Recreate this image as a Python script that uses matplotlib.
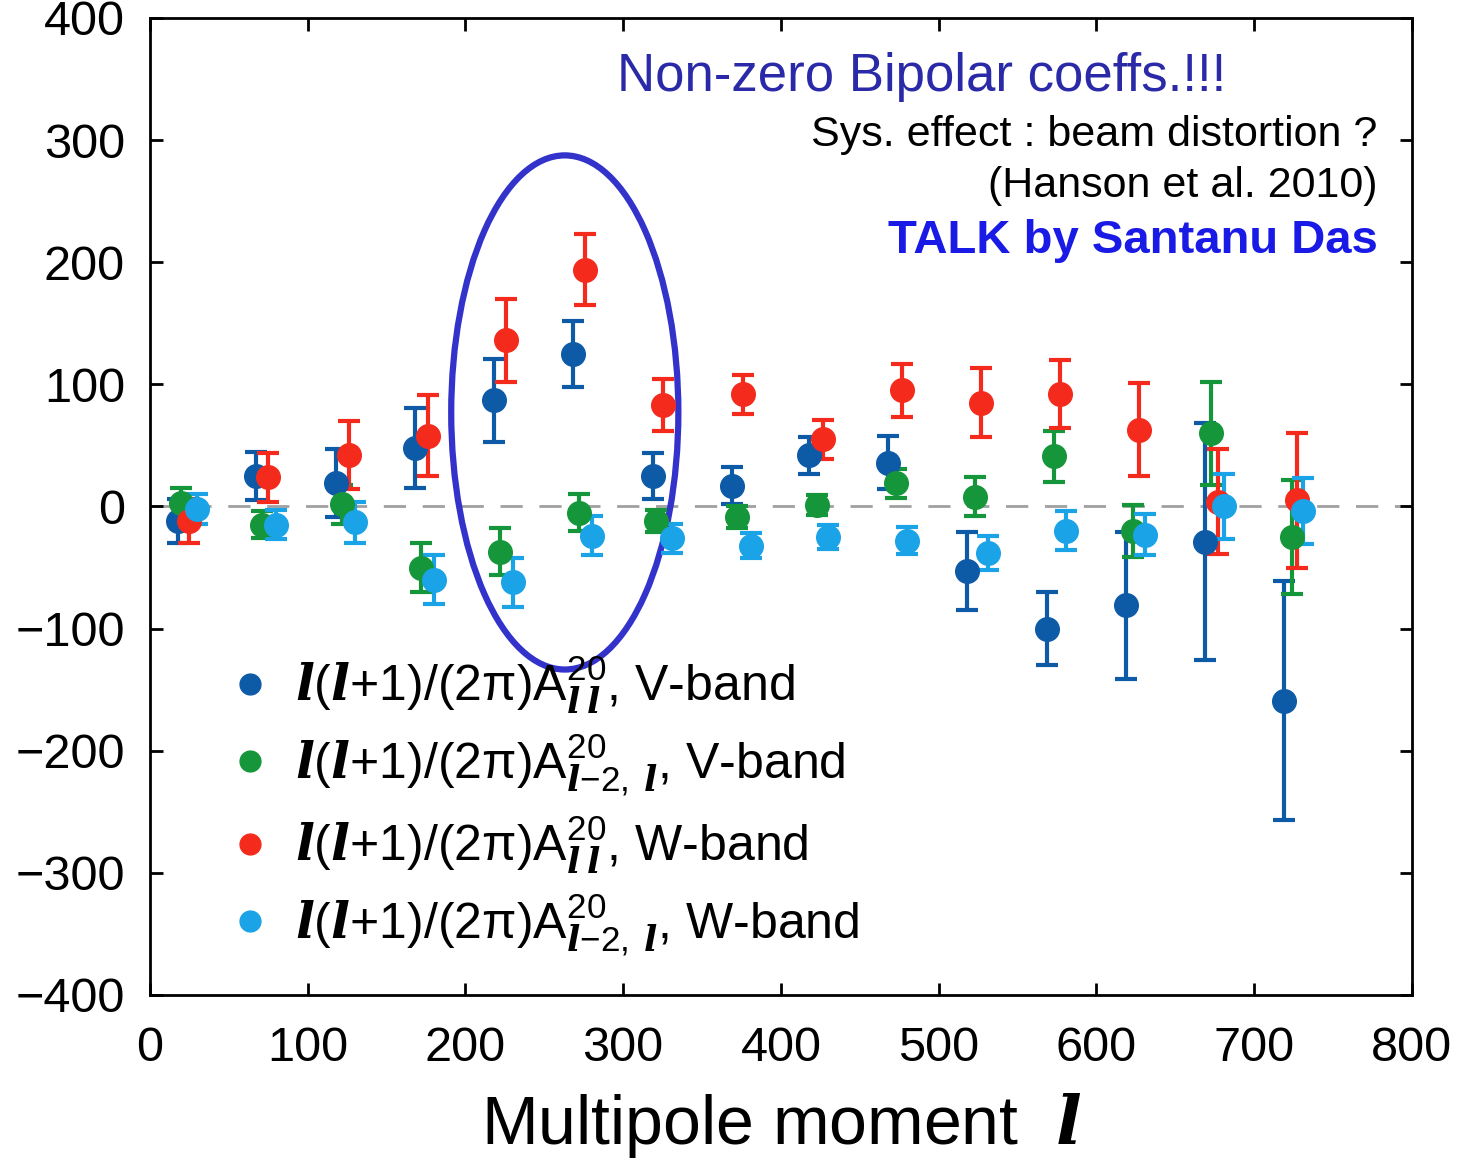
import matplotlib.pyplot as plt
from matplotlib.patches import Ellipse
from matplotlib.lines import Line2D

# bipolar coefficients
l_vll = [18, 67, 118, 168, 218, 268, 319, 369, 418, 468, 518, 569, 619, 669, 719]
a_vll = [-12, 25, 19, 48, 87, 125, 25, 17, 42, 36, -53, -100, -81, -29, -159]
e_vll = [18, 20, 28, 33, 34, 27, 19, 15, 15, 22, 32, 30, 60, 97, 98]

l_vl2 = [20, 71, 122, 172, 222, 272, 321, 372, 423, 473, 523, 573, 623, 673, 724]
a_vl2 = [3, -15, 2, -50, -37, -5, -12, -9, 1, 19, 8, 41, -20, 60, -25]
e_vl2 = [12, 11, 16, 20, 19, 15, 9, 9, 8, 12, 16, 21, 21, 42, 47]

l_wll = [25, 75, 126, 176, 226, 276, 325, 376, 427, 477, 527, 577, 627, 677, 727]
a_wll = [-12, 24, 42, 58, 136, 194, 83, 92, 55, 95, 85, 92, 63, 4, 5]
e_wll = [18, 20, 28, 33, 34, 29, 21, 16, 16, 22, 28, 28, 38, 43, 55]

l_wl2 = [30, 80, 130, 180, 230, 280, 331, 381, 430, 480, 531, 581, 631, 681, 731]
a_wl2 = [-2, -15, -13, -60, -62, -24, -26, -32, -25, -28, -38, -20, -23, 0, -4]
e_wl2 = [12, 12, 17, 20, 20, 16, 12, 10, 10, 11, 14, 16, 17, 27, 27]

labels = [r"$l(l$+1)/(2π)A$^{20}_{l\,l}$, V-band",
          r"$l(l$+1)/(2π)A$^{20}_{l\mathrm{-2},\,l}$, V-band",
          r"$l(l$+1)/(2π)A$^{20}_{l\,l}$, W-band",
          r"$l(l$+1)/(2π)A$^{20}_{l\mathrm{-2},\,l}$, W-band"]
colors = ["#0d5aa7", "#16963a", "#f42b1c", "#1aa3e6"]

plt.rcParams["font.family"] = ["Liberation Sans", "DejaVu Sans"]
plt.rcParams["mathtext.fontset"] = "custom"
plt.rcParams["mathtext.rm"] = "Liberation Sans"
plt.rcParams["mathtext.it"] = "DejaVu Serif:italic:bold"

fig = plt.figure(figsize=(14.6, 11.61), dpi=100)
ax = fig.add_axes([0.1027, 0.143, 0.8643, 0.8415])

ax.axhline(0, color="#a0a0a0", lw=2, dashes=(8, 6), zorder=0)

series = [(l_vll, a_vll, e_vll), (l_vl2, a_vl2, e_vl2),
          (l_wll, a_wll, e_wll), (l_wl2, a_wl2, e_wl2)]
for (x, y, e), c in zip(series, colors):
    ax.errorbar(x, y, yerr=e, fmt="o", color=c, ms=17, elinewidth=3,
                capsize=8, capthick=3)

# circle around the peak
ax.add_patch(Ellipse((263, 77), 144, 421, fill=False, ec="#3333cc", lw=4.5))

ax.set_xlim(0, 800)
ax.set_ylim(-400, 400)
ax.set_xticks(range(0, 801, 100))
ax.set_yticks(range(-400, 401, 100))
ax.set_yticklabels([str(v).replace("-", "\u2212") for v in range(-400, 401, 100)])
ax.tick_params(direction="in", length=9, width=2, labelsize=35, top=True, right=True)
ax.tick_params(axis="x", pad=22)
ax.tick_params(axis="y", pad=18)
for s in ax.spines.values():
    s.set_linewidth(2)
ax.set_xlabel(r"Multipole moment  $l$", fontsize=49, labelpad=15)

handles = [Line2D([], [], marker="o", ls="", color=c, ms=15) for c in colors]
ax.legend(handles, labels, loc="lower left", bbox_to_anchor=(0.0436, 0.017),
          borderaxespad=0, frameon=False, fontsize=36, handletextpad=0.4,
          labelspacing=0.32, handlelength=1.0)

ax.text(0.853, 0.94, "Non-zero Bipolar coeffs.!!!", transform=ax.transAxes,
        fontsize=38, color="#2a2aa8", ha="right", va="center")
ax.text(0.973, 0.88, "Sys. effect : beam distortion ?", transform=ax.transAxes,
        fontsize=31, ha="right", va="center")
ax.text(0.973, 0.828, "(Hanson et al. 2010)", transform=ax.transAxes,
        fontsize=31, ha="right", va="center")
ax.text(0.973, 0.772, "TALK by Santanu Das", transform=ax.transAxes,
        fontsize=34, fontweight="bold", color="#1a1ae6", ha="right", va="center")

fig.savefig("out.png", dpi=100)
